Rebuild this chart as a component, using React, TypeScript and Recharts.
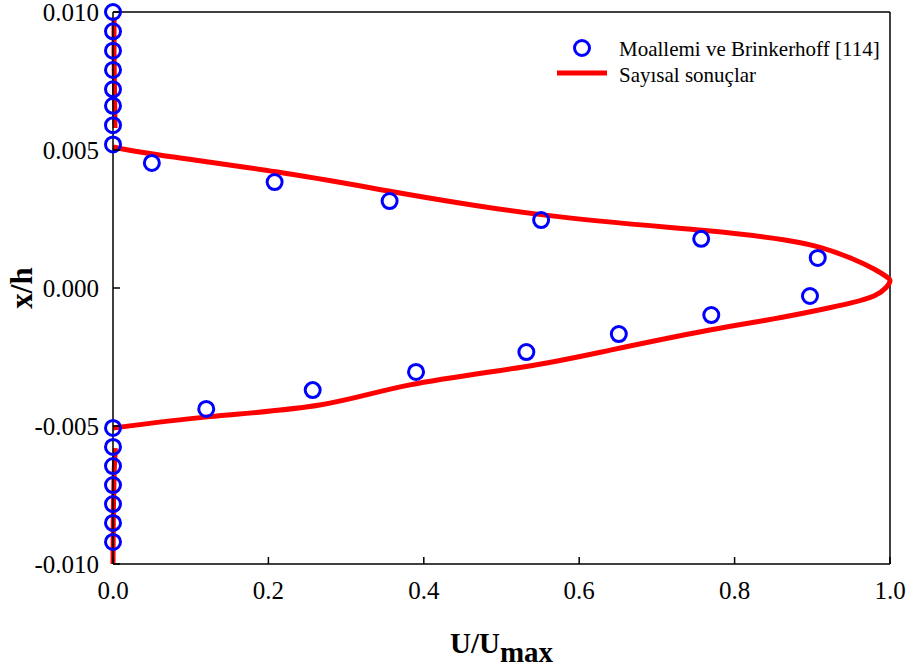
import { ComposedChart, Line, Scatter, XAxis, YAxis, ReferenceLine, Legend } from 'recharts'

const serif = '"Liberation Serif", "Times New Roman", serif'

// Moallemi ve Brinkerhoff [114] - measured points
const expU = [0, 0, 0, 0, 0, 0, 0, 0, 0.050, 0.208, 0.356, 0.551, 0.757, 0.907, 0.897, 0.770, 0.651, 0.532, 0.390, 0.257, 0.120, 0, 0, 0, 0, 0, 0, 0]
const expX = [0.0100, 0.0093, 0.0086, 0.0079, 0.0072, 0.0066, 0.0059, 0.0052, 0.00453, 0.00384, 0.00315, 0.00246, 0.00178, 0.00109, -0.00029, -0.00098, -0.00167, -0.00232, -0.00304, -0.00370, -0.00438, -0.00507, -0.00576, -0.00645, -0.00714, -0.00783, -0.00851, -0.00920]

// Sayısal sonuçlar - velocity profile
const profileU = [0, 0.06, 0.21, 0.36, 0.556, 0.762, 0.865, 0.91, 0.95, 0.98, 0.995, 1.0, 0.995, 0.98, 0.95, 0.91, 0.85, 0.768, 0.640, 0.530, 0.382, 0.266, 0.125, 0]
const profileX = [0.00511, 0.00482, 0.00421, 0.00349, 0.00264, 0.00208, 0.00174, 0.00147, 0.00108, 0.00068, 0.00042, 0.00026, 0.00002, -0.00028, -0.00054, -0.00079, -0.00112, -0.00152, -0.00225, -0.00285, -0.00351, -0.00424, -0.00466, -0.00507]

// near-wall pieces of the numerical result
const topU = [0.0013, 0.0013, 0.002, 0.0026]
const topX = [0.0098, 0.0085, 0.0070, 0.0058]
const botU = [0.003, 0.0015, 0.0005, 0]
const botX = [-0.0058, -0.0066, -0.0080, -0.0100]

const xTicks = [0, 0.2, 0.4, 0.6, 0.8, 1.0]
const yTicks = [-0.01, -0.005, 0, 0.005, 0.01]

const zip = (us: number[], xs: number[]) => us.map((u, i) => ({ u, x: xs[i] }))
const expData = zip(expU, expX)
const profileData = zip(profileU, profileX)
const topData = zip(topU, topX)
const botData = zip(botU, botX)

function XTick({ x, y, payload }: any) {
  return (
    <g>
      <line x1={x} y1={y} x2={x} y2={y - 7} stroke="#000" strokeWidth={1.5} />
      <text x={x} y={y + 35} textAnchor="middle" fontFamily={serif} fontSize={25} fill="#000">
        {payload.value.toFixed(1)}
      </text>
    </g>
  )
}

function YTick({ x, y, payload }: any) {
  return (
    <g>
      <line x1={x} y1={y} x2={x + 7} y2={y} stroke="#000" strokeWidth={1.5} />
      <text x={x - 14} y={y + 9} textAnchor="end" fontFamily={serif} fontSize={25} fill="#000">
        {payload.value.toFixed(3)}
      </text>
    </g>
  )
}

function Circle({ cx, cy }: any) {
  return <circle cx={cx} cy={cy} r={7.5} fill="none" stroke="#0000ff" strokeWidth={3} />
}

function LegendBox() {
  return (
    <svg width={340} height={60} style={{ display: 'block' }}>
      <circle cx={32} cy={18} r={7.5} fill="none" stroke="#0000ff" strokeWidth={3} />
      <text x={69} y={26} fontFamily={serif} fontSize={21} fill="#000">Moallemi ve Brinkerhoff [114]</text>
      <line x1={7} y1={43} x2={57} y2={43} stroke="#ff0000" strokeWidth={5} />
      <text x={69} y={52} fontFamily={serif} fontSize={21} fill="#000">Sayısal sonuçlar</text>
    </svg>
  )
}

export default function App() {
  return (
    <div style={{ position: 'absolute', left: 0, top: 0, width: 910, height: 671, background: '#fff' }}>
      <ComposedChart width={910} height={671} margin={{ top: 12, right: 20, bottom: 0, left: 0 }}>
        <XAxis
          type="number"
          dataKey="u"
          domain={[0, 1]}
          ticks={xTicks}
          height={107}
          tickSize={0}
          tickMargin={0}
          tick={<XTick />}
          tickLine={false}
          axisLine={{ stroke: '#000', strokeWidth: 1.5 }}
          label={{
            content: () => (
              <text x={450} y={653} fontFamily={serif} fontSize={29} fontWeight="bold" fill="#000">
                U/U<tspan dy={9}>max</tspan>
              </text>
            ),
          }}
        />
        <YAxis
          type="number"
          dataKey="x"
          domain={[-0.01, 0.01]}
          ticks={yTicks}
          width={113}
          tickSize={0}
          tickMargin={0}
          tick={<YTick />}
          tickLine={false}
          axisLine={{ stroke: '#000', strokeWidth: 1.5 }}
          label={{
            content: () => (
              <text
                x={32}
                y={288}
                transform="rotate(-90, 32, 288)"
                textAnchor="middle"
                fontFamily={serif}
                fontSize={31}
                fontWeight="bold"
                fill="#000"
              >
                x/h
              </text>
            ),
          }}
        />
        <ReferenceLine y={0.01} stroke="#000" strokeWidth={1.5} />
        <ReferenceLine x={1} stroke="#000" strokeWidth={1.5} />
        <Legend
          layout="vertical"
          align="center"
          verticalAlign="middle"
          wrapperStyle={{ top: 30, left: 550, width: 340 }}
          content={() => <LegendBox />}
        />
        <Scatter data={expData} dataKey="x" shape={<Circle />} isAnimationActive={false} />
        <Line data={profileData} dataKey="x" type="natural" stroke="#ff0000" strokeWidth={5} dot={false} activeDot={false} isAnimationActive={false} />
        <Line data={topData} dataKey="x" type="linear" stroke="#ff0000" strokeWidth={5} dot={false} activeDot={false} isAnimationActive={false} />
        <Line data={botData} dataKey="x" type="linear" stroke="#ff0000" strokeWidth={5} dot={false} activeDot={false} isAnimationActive={false} />
      </ComposedChart>
    </div>
  )
}
